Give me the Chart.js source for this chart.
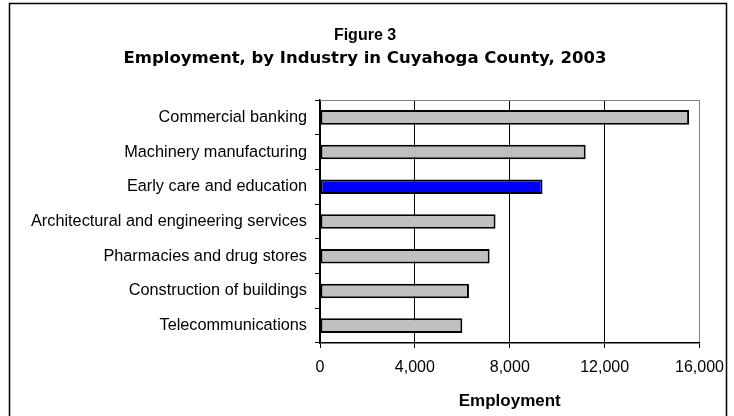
<!DOCTYPE html>
<html>
<head>
<meta charset="utf-8">
<script src="https://cdn.jsdelivr.net/npm/chart.js@4.4.1/dist/chart.umd.min.js"></script>
<style>
  html, body { margin: 0; padding: 0; background: #fff; }
  canvas { display: block; }
</style>
</head>
<body>
<canvas id="emp" width="734" height="416"></canvas>
<script>
var industries = [
  "Commercial banking",
  "Machinery manufacturing",
  "Early care and education",
  "Architectural and engineering services",
  "Pharmacies and drug stores",
  "Construction of buildings",
  "Telecommunications"
];
var employment = [15560, 11200, 9380, 7400, 7150, 6280, 6000];
var highlight = "Early care and education";
var xTicks = [0, 4000, 8000, 12000, 16000];

var barColors = industries.map(function (n) {
  return n === highlight ? '#0000FF' : '#C0C0C0';
});

// frame round the whole figure + grey top edge of the plot
var framePlugin = {
  id: 'frame',
  afterDraw: function (chart) {
    var c = chart.ctx, a = chart.chartArea;
    c.save();
    c.strokeStyle = '#808080';
    c.lineWidth = 1;
    c.beginPath();
    c.moveTo(a.left, a.top + 0.5);
    c.lineTo(a.right, a.top + 0.5);
    c.stroke();
    c.strokeStyle = '#000';
    c.lineWidth = 1.5;
    c.strokeRect(9.5, 3.5, 717, 430);
    c.restore();
  }
};

var ctx = document.getElementById("emp").getContext('2d');

var chart = new Chart(ctx, {
  type: 'bar',
  data: {
    labels: industries,
    datasets: [{
      data: employment,
      backgroundColor: barColors,
      borderColor: '#000',
      borderWidth: 2,
      borderSkipped: false,
      barPercentage: 0.42,
      categoryPercentage: 1
    }]
  },
  options: {
    indexAxis: 'y',
    responsive: false,
    animation: false,
    layout: { padding: { left: 30, right: 34, top: 0, bottom: 0 } },
    plugins: {
      legend: { display: false },
      tooltip: { enabled: false },
      title: {
        display: true,
        text: 'Figure 3',
        color: '#000',
        font: { family: 'Liberation Sans', size: 16, weight: 'bold', lineHeight: 1.2 },
        padding: { top: 26, bottom: 4 }
      },
      subtitle: {
        display: true,
        text: 'Employment, by Industry in Cuyahoga County, 2003',
        color: '#000',
        font: { family: 'DejaVu Sans', size: 16.5, weight: 'bold', lineHeight: 1.2 },
        padding: { top: 0, bottom: 31 }
      }
    },
    scales: {
      x: {
        min: 0,
        max: 16000,
        afterBuildTicks: function (s) {
          s.ticks = xTicks.map(function (v) { return { value: v }; });
        },
        afterFit: function (s) { s.height = 73; },
        ticks: {
          color: '#000',
          padding: 10,
          font: { family: 'Liberation Sans', size: 16 },
          callback: function (v) { return v.toLocaleString('en-US'); }
        },
        grid: {
          color: function (c) { return c.tick && c.tick.value === 16000 ? '#808080' : '#000'; },
          lineWidth: 1,
          tickLength: 5,
          tickColor: '#000'
        },
        border: { color: '#000', width: 1.5 },
        title: {
          display: true,
          text: 'Employment',
          color: '#000',
          font: { family: 'Liberation Sans', size: 17, weight: 'bold' },
          padding: { top: 10, bottom: 4 }
        }
      },
      y: {
        afterFit: function (s) { s.width = 290; },
        ticks: {
          color: '#000',
          padding: 8,
          font: { family: 'Liberation Sans', size: 16.3 }
        },
        grid: {
          offset: true,
          drawOnChartArea: false,
          tickLength: 5,
          color: '#000'
        },
        border: { color: '#000', width: 1.5 }
      }
    }
  },
  plugins: [framePlugin]
});
</script>
</body>
</html>
